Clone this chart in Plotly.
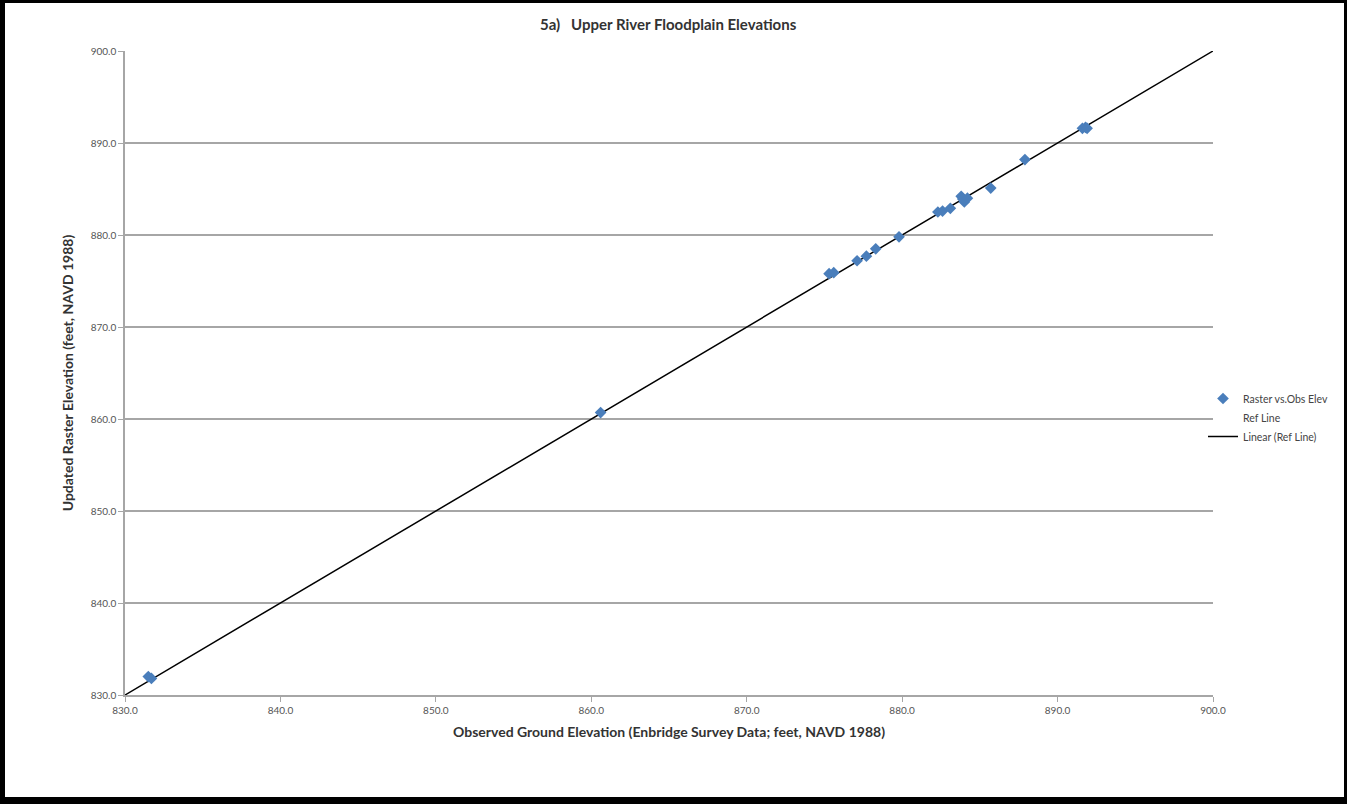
import plotly.graph_objects as go

obs_x = [831.5, 831.7, 860.6, 875.3, 875.6, 877.1, 877.7, 878.3, 879.8, 882.3, 882.6,
         883.1, 883.8, 884.0, 883.9, 884.2, 885.7, 887.9, 891.6, 891.8, 891.9]
raster_y = [832.0, 831.8, 860.7, 875.8, 875.9, 877.2, 877.7, 878.5, 879.8, 882.5, 882.6,
            882.9, 884.2, 883.6, 883.9, 884.0, 885.1, 888.2, 891.6, 891.7, 891.6]
ref_x = [830.0, 900.0]
ref_y = [830.0, 900.0]
tick_vals = [830, 840, 850, 860, 870, 880, 890, 900]
tick_text = ["830.0", "840.0", "850.0", "860.0", "870.0", "880.0", "890.0", "900.0"]

FONT = "Lato"
W, H = 1347, 804
L, R, T, B = 125, 134, 51, 109
pw, ph = W - L - R, H - T - B

fig = go.Figure()
fig.add_trace(go.Scatter(x=ref_x, y=ref_y, mode="lines", name="Linear (Ref Line)",
                         line=dict(color="black", width=1.5), legendrank=3))
fig.add_trace(go.Scatter(x=obs_x, y=raster_y, mode="markers", name="Raster vs.Obs Elev",
                         marker=dict(symbol="diamond", size=9, color="#4a7ebb"), legendrank=1))
fig.add_trace(go.Scatter(x=ref_x, y=ref_y, mode="markers", name="Ref Line",
                         marker=dict(size=6, color="rgba(0,0,0,0)"), legendrank=2))

def px2paper_x(px):
    return (px - L) / pw

def px2paper_y(py):
    return (H - B - py) / ph

shapes = []
for (x0, y0, x1, y1) in [(0, 0, 5, H), (0, 0, W, 3), (1344, 0, W, H), (0, 797, W, H)]:
    shapes.append(dict(type="rect", xref="paper", yref="paper",
                       x0=px2paper_x(x0), x1=px2paper_x(x1),
                       y0=px2paper_y(y1), y1=px2paper_y(y0),
                       fillcolor="black", line=dict(width=0), layer="above"))

fig.update_layout(
    width=W, height=H,
    margin=dict(l=L, r=R, t=T, b=B, autoexpand=False),
    paper_bgcolor="white", plot_bgcolor="white",
    title=dict(text="<b>5a)   Upper River Floodplain Elevations</b>", x=0.496, xanchor="center",
               y=1 - 25 / H, yanchor="middle", font=dict(family=FONT, size=15, color="#333333")),
    font=dict(family=FONT, color="#444444"),
    xaxis=dict(range=[830, 900], tickvals=tick_vals, ticktext=tick_text,
               showgrid=False, zeroline=False, showline=True, linecolor="#a6a6a6", linewidth=1.5,
               ticks="outside", ticklen=5, tickcolor="#a6a6a6",
               tickfont=dict(family=FONT, size=10, color="#555555"),
               title=dict(text="<b>Observed Ground Elevation (Enbridge Survey Data; feet, NAVD 1988)</b>",
                          font=dict(family=FONT, size=14, color="#333333"), standoff=12)),
    yaxis=dict(range=[830, 900], tickvals=tick_vals, ticktext=tick_text,
               showgrid=True, gridcolor="#a6a6a6", gridwidth=1.5, zeroline=False,
               showline=True, linecolor="#a6a6a6", linewidth=1.5,
               ticks="outside", ticklen=5, tickcolor="#a6a6a6",
               tickfont=dict(family=FONT, size=10, color="#555555"),
               title=dict(text="<b>Updated Raster Elevation (feet, NAVD 1988)</b>",
                          font=dict(family=FONT, size=14, color="#333333"), standoff=14)),
    legend=dict(x=px2paper_x(1203), y=px2paper_y(384), xanchor="left", yanchor="top",
                font=dict(family=FONT, size=10.5, color="#444444"), bgcolor="rgba(0,0,0,0)",
                traceorder="normal", itemwidth=30),
    shapes=shapes,
    showlegend=True,
)

fig.write_html("out.html")
